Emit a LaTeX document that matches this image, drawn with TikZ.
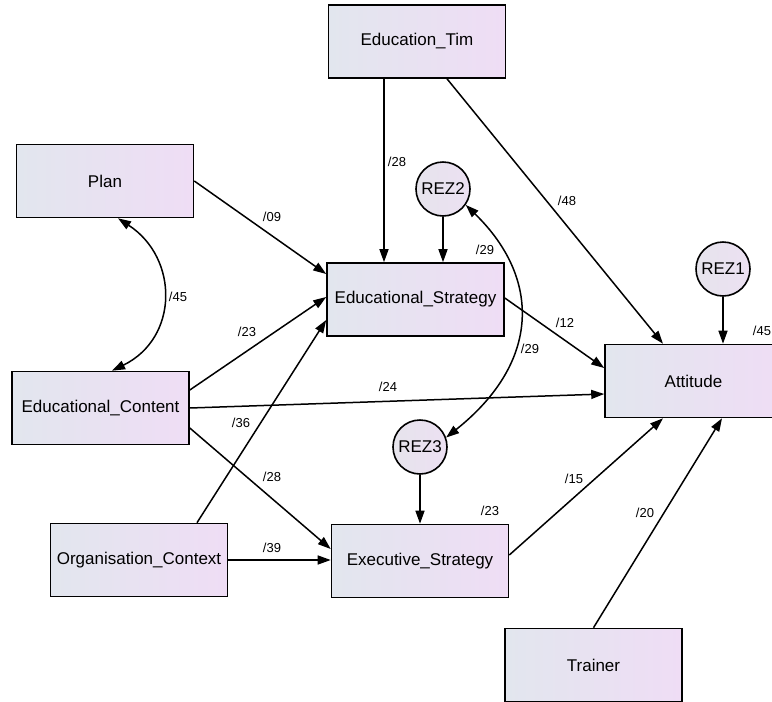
\documentclass[tikz,border=0pt]{standalone}
\usepackage{fontspec}
\setmainfont{Liberation Sans}
\usetikzlibrary{arrows.meta,calc}
\definecolor{boxL}{RGB}{226,230,238}
\definecolor{boxR}{RGB}{239,221,245}
\definecolor{circL}{RGB}{230,228,236}
\definecolor{circR}{RGB}{236,224,242}
\tikzset{
  var/.style={draw=black, line width=1.6pt, rectangle, minimum width=177pt, minimum height=73pt, inner sep=0pt,
    left color=boxL, right color=boxR, font=\fontsize{17}{20}\selectfont},
  rez/.style={draw=black, line width=1.6pt, circle, minimum size=54pt, inner sep=0pt,
    left color=circL, right color=circR, font=\fontsize{17}{20}\selectfont},
  arr/.style={line width=1.5pt, -{Triangle[length=13pt,width=9pt]}},
  cov/.style={line width=1.5pt, {Triangle[length=13pt,width=9pt]}-{Triangle[length=13pt,width=9pt]}},
  lab/.style={font=\fontsize{13}{15}\selectfont, inner sep=1pt}
}
\begin{document}
\begin{tikzpicture}[x=1pt,y=-1pt]
\useasboundingbox[fill=white] (0,0) rectangle (772,702);
% nodes
\node[var] (EduTim) at (417,41.5) {Education\_Tim};
\node[var] (Plan) at (105,181) {Plan};
\node[var] (EdS) at (415.5,299.5) {Educational\_Strategy};
\node[var] (Att) at (693.5,381) {Attitude};
\node[var] (EdC) at (100.5,408) {Educational\_Content};
\node[var] (Org) at (139,560) {Organisation\_Context};
\node[var] (Exec) at (420,561) {Executive\_Strategy};
\node[var] (Trainer) at (593.5,665) {Trainer};
\node[rez] (REZ2) at (443,189) {REZ2};
\node[rez] (REZ1) at (723,269) {REZ1};
\node[rez] (REZ3) at (420,447) {REZ3};
% connectors
\draw[arr] ([xshift=-33pt]EduTim.south) -- ([xshift=-31.5pt]EdS.north);
\draw[arr] ([xshift=30pt]EduTim.south) -- ([xshift=-30.5pt]Att.north);
\draw[arr] (Plan.east) -- ([yshift=25.5pt]EdS.west);
\draw[arr] (REZ2.south) -- (REZ2.south |- EdS.north);
\draw[arr] ([yshift=18pt]EdC.east) -- ([yshift=2.5pt]EdS.west);
\draw[arr] ([xshift=58pt]Org.north) -- ([yshift=-20.5pt]EdS.west);
\draw[arr] (EdC.east) -- ([yshift=-13pt]Att.west);
\draw[arr] ([yshift=1.5pt]EdS.east) -- ([yshift=13pt]Att.west);
\draw[arr] (REZ1.south) -- (REZ1.south |- Att.north);
\draw[arr] ([yshift=-20pt]EdC.east) -- ([yshift=12pt]Exec.west);
\draw[arr] (Org.east) -- (Org.east -| Exec.west);
\draw[arr] (REZ3.south) -- (REZ3.south |- Exec.north);
\draw[arr] ([yshift=6pt]Exec.east) -- ([xshift=-30.5pt]Att.south);
\draw[arr] (Trainer.north) -- ([xshift=28.5pt]Att.south);
\draw[cov] ([xshift=13pt]Plan.south) .. controls (179,258) and (179,338) .. ([xshift=11.5pt]EdC.north);
\draw[cov] (REZ2.-35) .. controls (541,278) and (541,362) .. (REZ3.20);
% labels
\node[lab] (l1) at (397,162) {/28};
\node[lab] (l2) at (272,217) {/09};
\node[lab] (l3) at (178,297) {/45};
\node[lab] (l4) at (247,332) {/23};
\node[lab] (l5) at (388,387) {/24};
\node[lab] (l6) at (241,423) {/36};
\node[lab] (l7) at (567,201) {/48};
\node[lab] (l8) at (485,250) {/29};
\node[lab] (l9) at (530,349) {/29};
\node[lab] (l10) at (565,323) {/12};
\node[lab] (l11) at (762,331) {/45};
\node[lab] (l12) at (272,477) {/28};
\node[lab] (l13) at (272,548) {/39};
\node[lab] (l14) at (490,511) {/23};
\node[lab] (l15) at (574,479) {/15};
\node[lab] (l16) at (645,513) {/20};
\end{tikzpicture}
\end{document}
